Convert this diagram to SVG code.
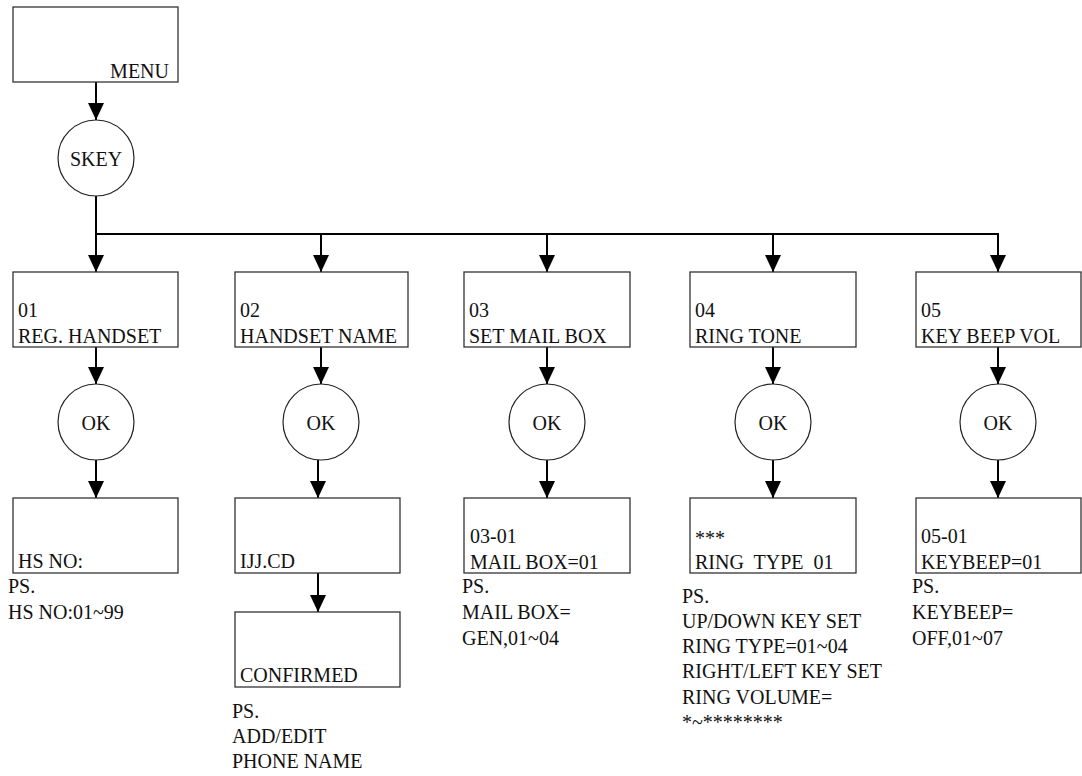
<svg xmlns="http://www.w3.org/2000/svg" width="1082" height="776" viewBox="0 0 1082 776">
<style>
text{font-family:'Liberation Serif','DejaVu Serif',serif;font-size:20px;fill:#111;white-space:pre}
.box{fill:#fff;stroke:#333;stroke-width:1.3}
.circ{fill:#fff;stroke:#222;stroke-width:1.2}
.c{text-anchor:middle}
.conn line{stroke:#000;stroke-width:2;fill:none}
</style>
<defs>
<marker id="ah" markerUnits="userSpaceOnUse" markerWidth="17" markerHeight="16" refX="17" refY="8" orient="auto">
<path d="M0,0 L17,8 L0,16 z" fill="#000"/>
</marker>
</defs>
<rect width="1082" height="776" fill="#fff"/>
<g class="conn">
<line x1="96" y1="82" x2="96" y2="120" marker-end="url(#ah)"/>
<line x1="96" y1="196" x2="96" y2="272" marker-end="url(#ah)"/>
<line x1="96" y1="234" x2="999" y2="234"/>
<line x1="321" y1="234" x2="321" y2="272" marker-end="url(#ah)"/>
<line x1="547" y1="234" x2="547" y2="272" marker-end="url(#ah)"/>
<line x1="773" y1="234" x2="773" y2="272" marker-end="url(#ah)"/>
<line x1="998" y1="233" x2="998" y2="272" marker-end="url(#ah)"/>
<line x1="96" y1="347" x2="96" y2="384" marker-end="url(#ah)"/>
<line x1="321" y1="347" x2="321" y2="384" marker-end="url(#ah)"/>
<line x1="547" y1="347" x2="547" y2="384" marker-end="url(#ah)"/>
<line x1="773" y1="347" x2="773" y2="384" marker-end="url(#ah)"/>
<line x1="998" y1="347" x2="998" y2="384" marker-end="url(#ah)"/>
<line x1="96" y1="460" x2="96" y2="498" marker-end="url(#ah)"/>
<line x1="318" y1="460" x2="318" y2="498" marker-end="url(#ah)"/>
<line x1="547" y1="460" x2="547" y2="498" marker-end="url(#ah)"/>
<line x1="773" y1="460" x2="773" y2="498" marker-end="url(#ah)"/>
<line x1="998" y1="460" x2="998" y2="498" marker-end="url(#ah)"/>
<line x1="318" y1="573" x2="318" y2="612" marker-end="url(#ah)"/>
</g>
<g font-family="Liberation Serif, DejaVu Serif, serif">
<g id="menu"><rect class="box" x="13" y="7" width="165" height="75"/><text x="169" y="78" text-anchor="end">MENU</text></g>
<g id="skey"><circle class="circ" cx="96" cy="158" r="38"/><text class="c" x="96" y="166">SKEY</text></g>
<g id="n01"><rect class="box" x="13" y="272" width="165" height="75"/><text x="18" y="317">01</text><text x="18" y="343">REG. HANDSET</text></g>
<g id="n02"><rect class="box" x="235" y="272" width="173" height="75"/><text x="240" y="317">02</text><text x="240" y="343">HANDSET NAME</text></g>
<g id="n03"><rect class="box" x="464" y="272" width="166" height="75"/><text x="469" y="317">03</text><text x="469" y="343">SET MAIL BOX</text></g>
<g id="n04"><rect class="box" x="690" y="272" width="166" height="75"/><text x="695" y="317">04</text><text x="695" y="343">RING TONE</text></g>
<g id="n05"><rect class="box" x="916" y="272" width="165" height="75"/><text x="921" y="317">05</text><text x="921" y="343">KEY BEEP VOL</text></g>
<g id="ok1"><circle class="circ" cx="96" cy="422" r="38"/><text class="c" x="96" y="430">OK</text></g>
<g id="ok2"><circle class="circ" cx="321" cy="422" r="38"/><text class="c" x="321" y="430">OK</text></g>
<g id="ok3"><circle class="circ" cx="547" cy="422" r="38"/><text class="c" x="547" y="430">OK</text></g>
<g id="ok4"><circle class="circ" cx="773" cy="422" r="38"/><text class="c" x="773" y="430">OK</text></g>
<g id="ok5"><circle class="circ" cx="998" cy="422" r="38"/><text class="c" x="998" y="430">OK</text></g>
<g id="hsno"><rect class="box" x="13" y="498" width="165" height="75"/><text x="18" y="568">HS NO:</text></g>
<g id="ijj"><rect class="box" x="235" y="498" width="165" height="75"/><text x="240" y="568">IJJ.CD</text></g>
<g id="confirmed"><rect class="box" x="235" y="612" width="165" height="75"/><text x="240" y="682">CONFIRMED</text></g>
<g id="mb"><rect class="box" x="464" y="498" width="166" height="75"/><text x="470" y="543">03-01</text><text x="470" y="569">MAIL BOX=01</text></g>
<g id="rt"><rect class="box" x="690" y="498" width="166" height="75"/><text x="695" y="545">***</text><text x="695" y="569">RING  TYPE  01</text></g>
<g id="kb"><rect class="box" x="916" y="498" width="165" height="75"/><text x="921" y="543">05-01</text><text x="921" y="569">KEYBEEP=01</text></g>
<g id="ps1"><text x="8" y="593">PS.</text><text x="8" y="619">HS NO:01~99</text></g>
<g id="ps2"><text x="232" y="718">PS.</text><text x="232" y="743">ADD/EDIT</text><text x="232" y="768">PHONE NAME</text></g>
<g id="ps3"><text x="462" y="593">PS.</text><text x="462" y="619">MAIL BOX=</text><text x="462" y="645">GEN,01~04</text></g>
<g id="ps4"><text x="682" y="603">PS.</text><text x="682" y="628">UP/DOWN KEY SET</text><text x="682" y="653">RING TYPE=01~04</text><text x="682" y="678">RIGHT/LEFT KEY SET</text><text x="682" y="704">RING VOLUME=</text><text x="682" y="729">*~********</text></g>
<g id="ps5"><text x="912" y="593">PS.</text><text x="912" y="619">KEYBEEP=</text><text x="912" y="645">OFF,01~07</text></g>
</g>
</svg>
